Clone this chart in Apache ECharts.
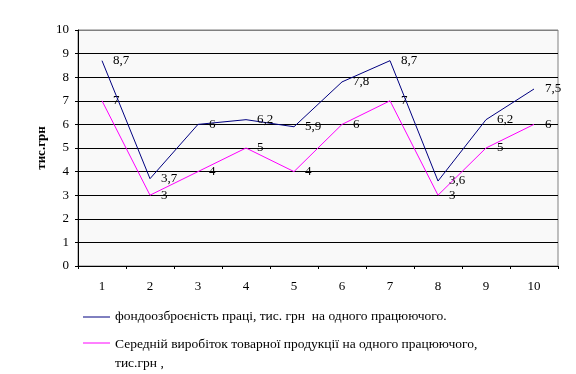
<!DOCTYPE html>
<html>
<head>
<meta charset="utf-8">
<script src="https://cdn.jsdelivr.net/npm/echarts@6/dist/echarts.min.js"></script>
<style>html,body{margin:0;padding:0;background:#fff}#c{width:576px;height:374px}</style>
</head>
<body>
<div id="c"></div>
<script>
const categories = ['1','2','3','4','5','6','7','8','9','10'];
const seriesNames = ['фондоозброєність праці, тис. грн  на одного працюючого.', 'Середній виробіток товарної продукції на одного працюючого,\nтис.грн ,'];
const fondo = [8.7, 3.7, 6, 6.2, 5.9, 7.8, 8.7, 3.6, 6.2, 7.5];
const vyrobitok = [7, 3, 4, 5, 4, 6, 7, 3, 5, 6];
const yAxisName = 'тис.грн';

const FONT = '"Liberation Serif", "DejaVu Serif", serif';
const chart = echarts.init(document.getElementById('c'), null, {renderer: 'canvas'});
const lbl = {
  show: true, position: 'right', distance: 11,
  fontFamily: FONT, fontSize: 13, color: '#000',
  formatter: p => String(p.value).replace('.', ',')
};
const gridColors = ['#000','#000','#000','#000','#000','#000','#000','#000','#000','#000','#808080'];
chart.setOption({
  animation: false,
  textStyle: {fontFamily: FONT},
  grid: {left: 78, top: 30, width: 480, height: 236, show: true, backgroundColor: '#f9f9f9', borderColor: '#808080', borderWidth: 1},
  xAxis: {
    type: 'category', data: categories, boundaryGap: true,
    axisLine: {lineStyle: {color: '#000', width: 1}},
    axisTick: {show: true, length: 3, lineStyle: {color: '#000'}},
    axisLabel: {fontFamily: FONT, fontSize: 13, color: '#000', margin: 14}
  },
  yAxis: {
    type: 'value', min: 0, max: 10, interval: 1,
    name: yAxisName, nameLocation: 'middle', nameGap: 30, nameRotate: 90, nameMoveOverlap: false,
    nameTextStyle: {fontFamily: FONT, fontSize: 13, fontWeight: 'bold', color: '#000'},
    axisLine: {show: true, lineStyle: {color: '#000', width: 1}},
    axisTick: {show: true, length: 3, lineStyle: {color: '#000'}},
    axisLabel: {fontFamily: FONT, fontSize: 13, color: '#000', margin: 9},
    splitLine: {show: true, lineStyle: {color: gridColors, width: 1}}
  },
  series: [
    {name: seriesNames[0], type: 'line', data: fondo, symbol: 'circle', symbolSize: 0, showSymbol: true, lineStyle: {color: '#000080', width: 1}, itemStyle: {color: '#000080'}, label: lbl, z: 3},
    {name: seriesNames[1], type: 'line', data: vyrobitok, symbol: 'circle', symbolSize: 0, showSymbol: true, lineStyle: {color: '#ff00ff', width: 1}, itemStyle: {color: '#ff00ff'}, label: lbl, z: 2}
  ],
  graphic: [
    {type: 'line', shape: {x1: 83, y1: 317, x2: 110, y2: 317}, style: {stroke: '#000080', lineWidth: 1}},
    {type: 'text', left: 115, top: 309, style: {text: seriesNames[0], font: '13.5px ' + FONT, fill: '#000'}},
    {type: 'line', shape: {x1: 83, y1: 343, x2: 110, y2: 343}, style: {stroke: '#ff00ff', lineWidth: 1}},
    {type: 'text', left: 115, top: 335, style: {text: seriesNames[1], font: '13.5px ' + FONT, fill: '#000', lineHeight: 19}}
  ]
});
</script>
</body>
</html>
